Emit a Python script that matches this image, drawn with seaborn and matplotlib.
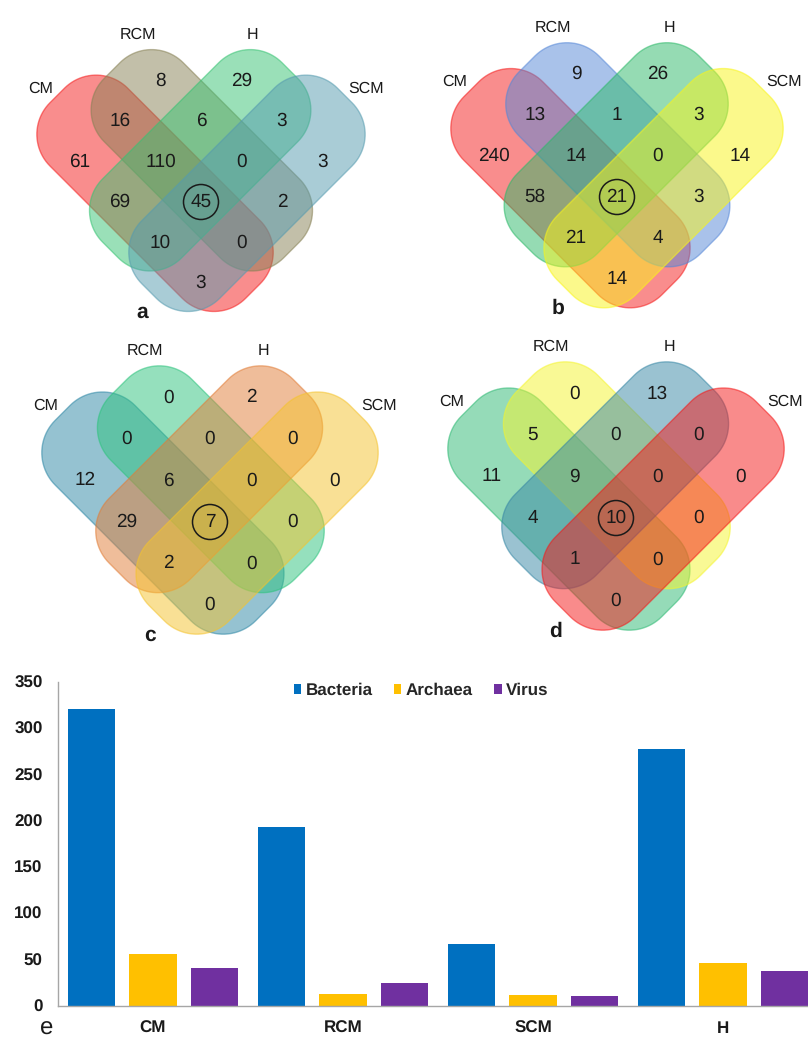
import numpy as np
import pandas as pd
import matplotlib
matplotlib.use("Agg")
import matplotlib.pyplot as plt
from matplotlib.patches import Polygon, Circle, Patch
import seaborn as sns

# ---------------------------------------------------------------- data
sets = ["CM", "RCM", "H", "SCM"]

# Venn regions, each given by the sets it belongs to
regions = ["CM", "RCM", "H", "SCM",
           "CM&RCM", "RCM&H", "H&SCM",
           "CM&RCM&H", "RCM&H&SCM", "CM&H",
           "CM&RCM&H&SCM", "RCM&SCM", "CM&H&SCM",
           "CM&RCM&SCM", "CM&SCM"]

venn_a = [61, 8, 29, 3, 16, 6, 3, 110, 0, 69, 45, 2, 10, 0, 3]
venn_b = [240, 9, 26, 14, 13, 1, 3, 14, 0, 58, 21, 3, 21, 4, 14]
venn_c = [12, 0, 2, 0, 0, 0, 0, 6, 0, 29, 7, 0, 2, 0, 0]
venn_d = [11, 0, 13, 0, 5, 0, 0, 9, 0, 4, 10, 0, 1, 0, 0]

colors_a = ["#F51C1C", "#878155", "#37C373", "#559BAF"]
colors_b = ["#F51C1C", "#5587D7", "#2DB969", "#F9F519"]
colors_c = ["#2D87A5", "#2DC37D", "#E17D37", "#F5C32D"]
colors_d = ["#2DB973", "#F5F52D", "#3787A5", "#F51919"]

samples = ["CM", "RCM", "SCM", "H"]
domains = ["Bacteria", "Archaea", "Virus"]
bacteria = [321, 193, 67, 277]
archaea = [56, 13, 12, 46]
virus = [41, 24, 11, 37]
domain_colors = ["#0070C0", "#FFC000", "#7030A0"]
y_ticks = [0, 50, 100, 150, 200, 250, 300, 350]

# ---------------------------------------------------------------- style
sns.set_theme(style="white")
plt.rcParams["font.family"] = ["Liberation Sans", "DejaVu Sans"]
plt.rcParams["text.hinting"] = "no_hinting"
plt.rcParams["text.hinting_factor"] = 1
TXT = "#1a1a1a"

W, H = 808, 1041
fig = plt.figure(figsize=(W / 100, H / 100), dpi=100)

# canvas axes in pixel units for the Venn panels
canvas = fig.add_axes([0, 0, 1, 1])
canvas.set_xlim(0, W)
canvas.set_ylim(H, 0)
canvas.axis("off")

# strip extents in the diagonal (a, b) frame; CM/RCM run along b, H/SCM along a
strips = {
    "CM":  ((-1.42, 0.50), (-3.09, 1.74)),
    "RCM": ((-0.45, 1.50), (-2.72, 1.71)),
    "H":   ((-1.71, 2.72), (-1.50, 0.45)),
    "SCM": ((-1.74, 3.09), (-0.50, 1.42)),
}
RADIUS = 0.78


def rounded_rect(a0, a1, b0, b1, r, n=24):
    pts = []
    arcs = [((a1 - r, b1 - r), 0), ((a0 + r, b1 - r), 90),
            ((a0 + r, b0 + r), 180), ((a1 - r, b0 + r), 270)]
    for (ca, cb), start in arcs:
        t = np.radians(np.linspace(start, start + 90, n))
        pts.extend(zip(ca + r * np.cos(t), cb + r * np.sin(t)))
    return np.array(pts)


def to_px(a, b, cx, cy, s):
    a = np.asarray(a, float)
    b = np.asarray(b, float)
    return cx + s * (a + b), cy + s * (b - a)


def cell_of(region):
    members = set(region.split("&"))
    in_cm, in_rcm = "CM" in members, "RCM" in members
    in_h, in_scm = "H" in members, "SCM" in members
    a = {(True, False): -1, (True, True): 0, (False, True): 1, (False, False): 2}[(in_cm, in_rcm)]
    b = {(True, False): -1, (True, True): 0, (False, True): 1, (False, False): -2}[(in_h, in_scm)]
    return a, b


set_label_pos = {"CM": (-3.97, -2.80), "RCM": (-1.57, -4.13),
                 "H": (1.28, -4.13), "SCM": (4.07, -2.80)}


def draw_venn(values, colors, cx, cy, s, letter):
    for name, col in zip(sets, colors):
        (a0, a1), (b0, b1) = strips[name]
        ab = rounded_rect(a0, a1, b0, b1, RADIUS)
        x, y = to_px(ab[:, 0], ab[:, 1], cx, cy, s)
        canvas.add_patch(Polygon(np.column_stack([x, y]), closed=True,
                                 facecolor=col, alpha=0.5, lw=0))
        canvas.add_patch(Polygon(np.column_stack([x, y]), closed=True,
                                 fill=False, edgecolor=col, alpha=0.55, lw=1.0))
    for region, val in zip(regions, values):
        a, b = cell_of(region)
        x, y = to_px(a, b, cx, cy, s)
        canvas.text(x, y, str(val), ha="center", va="center",
                    fontsize=14, color=TXT)
        if region.count("&") == 3:
            canvas.add_patch(Circle((x, y), 17.5, fill=False,
                                    edgecolor=TXT, lw=1.1))
    for name in sets:
        dx, dy = set_label_pos[name]
        canvas.text(cx + dx * s, cy + dy * s, name, ha="center", va="center",
                    fontsize=11.5, color=TXT)
    canvas.text(cx - 1.45 * s, cy + 2.72 * s, letter, ha="center",
                va="center", fontsize=15, fontweight="bold", color=TXT)


draw_venn(venn_a, colors_a, 201, 202, 40.5, "a")
draw_venn(venn_b, colors_b, 617, 197, 41.0, "b")
draw_venn(venn_c, colors_c, 210, 522, 41.5, "c")
draw_venn(venn_d, colors_d, 616, 518, 41.5, "d")

# ---------------------------------------------------------------- bar chart
df = pd.DataFrame({
    "Sample": np.repeat(samples, len(domains)),
    "Domain": domains * len(samples),
    "Count": np.column_stack([bacteria, archaea, virus]).ravel(),
})

left_px, right_px, top_px, base_px = 58, 818, 681.7, 1005.7
ax = fig.add_axes([left_px / W, 1 - base_px / H,
                   (right_px - left_px) / W, (base_px - top_px) / H])
ax.patch.set_alpha(0)
sns.barplot(data=df, x="Sample", y="Count", hue="Domain", order=samples,
            hue_order=domains, palette=domain_colors, saturation=1,
            width=0.971, gap=0.22, linewidth=0, ax=ax, legend=False)
ax.set_ylim(0, 350)
ax.set_xlim(-0.5, len(samples) - 0.5)
ax.set_yticks(y_ticks)
ax.set_xlabel("")
ax.set_ylabel("")
ax.tick_params(axis="both", length=0, labelsize=12.5, colors=TXT)
ax.tick_params(axis="y", pad=11)
ax.tick_params(axis="x", pad=10.5)
for lab in ax.get_xticklabels() + ax.get_yticklabels():
    lab.set_fontweight("bold")
sns.despine(ax=ax)
for side in ("left", "bottom"):
    ax.spines[side].set_color("#A6A6A6")
    ax.spines[side].set_linewidth(1.0)

handles = [Patch(facecolor=c, edgecolor="none") for c in domain_colors]
fig.legend(handles, domains, loc="center", ncol=3,
           bbox_to_anchor=(421 / W, 1 - 690.7 / H), frameon=False,
           handlelength=0.45, handleheight=0.45, handletextpad=0.25,
           columnspacing=1.2, prop={"weight": "bold", "size": 12.5})

canvas.text(47, 1029, "e", ha="center", va="center", fontsize=17, color=TXT)

fig.savefig("out.png", dpi=100)
